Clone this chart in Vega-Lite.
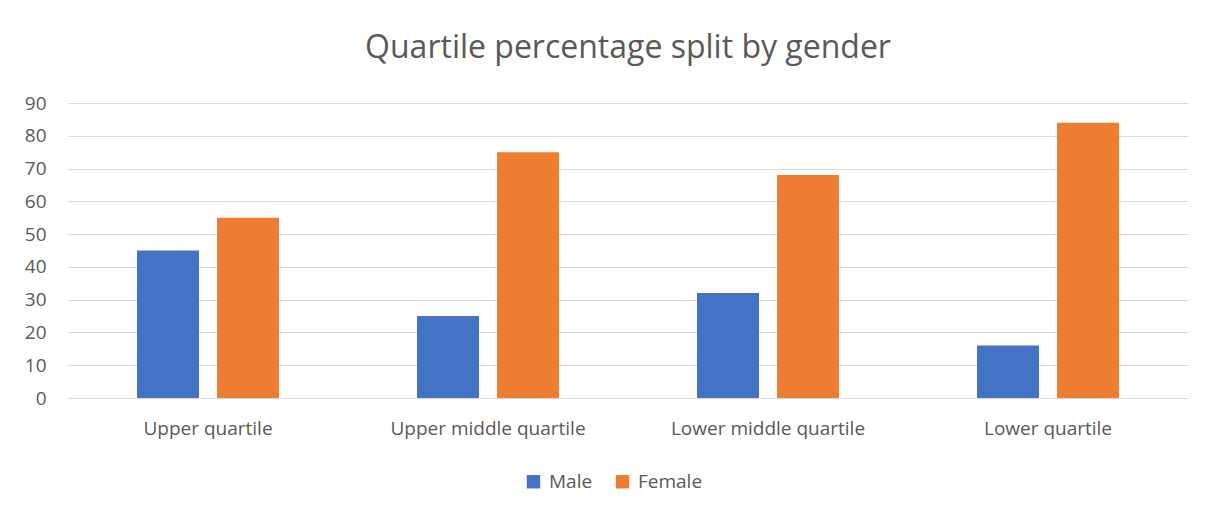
{
  "$schema": "https://vega.github.io/schema/vega-lite/v6.json",
  "autosize": {"type": "none"},
  "width": 1120,
  "height": 295,
  "padding": {"left": 68, "top": 103, "right": 30, "bottom": 127},
  "background": "white",
  "title": {
    "text": "Quartile percentage split by gender",
    "font": "Open Sans",
    "fontSize": 32,
    "fontWeight": "normal",
    "color": "#595959",
    "anchor": "middle",
    "offset": 29
  },
  "data": {
    "values": [
      {"quartile": "Upper quartile", "gender": "Male", "value": 45},
      {"quartile": "Upper quartile", "gender": "Female", "value": 55},
      {"quartile": "Upper middle quartile", "gender": "Male", "value": 25},
      {"quartile": "Upper middle quartile", "gender": "Female", "value": 75},
      {"quartile": "Lower middle quartile", "gender": "Male", "value": 32},
      {"quartile": "Lower middle quartile", "gender": "Female", "value": 68},
      {"quartile": "Lower quartile", "gender": "Male", "value": 16},
      {"quartile": "Lower quartile", "gender": "Female", "value": 84}
    ]
  },
  "mark": {"type": "bar"},
  "encoding": {
    "x": {
      "field": "quartile",
      "type": "nominal",
      "sort": ["Upper quartile", "Upper middle quartile", "Lower middle quartile", "Lower quartile"],
      "scale": {"paddingInner": 0, "paddingOuter": 0},
      "axis": {
        "title": null,
        "labelAngle": 0,
        "labelLimit": 0,
        "labelFont": "Open Sans",
        "labelFontSize": 19,
        "labelColor": "#595959",
        "labelPadding": 21,
        "ticks": false,
        "domainColor": "#d9d9d9",
        "domainWidth": 1
      }
    },
    "xOffset": {
      "field": "gender",
      "type": "nominal",
      "sort": ["Male", "Female"],
      "scale": {"paddingInner": 0.225, "paddingOuter": 0.8625}
    },
    "y": {
      "field": "value",
      "type": "quantitative",
      "scale": {"domain": [0, 90]},
      "axis": {
        "title": null,
        "values": [0, 10, 20, 30, 40, 50, 60, 70, 80, 90],
        "labelFont": "Open Sans",
        "labelFontSize": 19,
        "labelColor": "#595959",
        "labelPadding": 22,
        "ticks": false,
        "domain": false,
        "gridColor": "#d9d9d9",
        "gridWidth": 1
      }
    },
    "color": {
      "field": "gender",
      "type": "nominal",
      "sort": ["Male", "Female"],
      "scale": {"domain": ["Male", "Female"], "range": ["#4472C4", "#ED7D31"]},
      "legend": {
        "title": null,
        "orient": "none",
        "legendX": 456,
        "legendY": 369,
        "direction": "horizontal",
        "symbolType": "square",
        "symbolSize": 180,
        "symbolStrokeWidth": 0,
        "symbolOffset": 0,
        "labelFont": "Open Sans",
        "labelFontSize": 19,
        "labelColor": "#595959",
        "labelOffset": 6,
        "columnPadding": 20
      }
    }
  },
  "config": {"view": {"stroke": null}}
}
